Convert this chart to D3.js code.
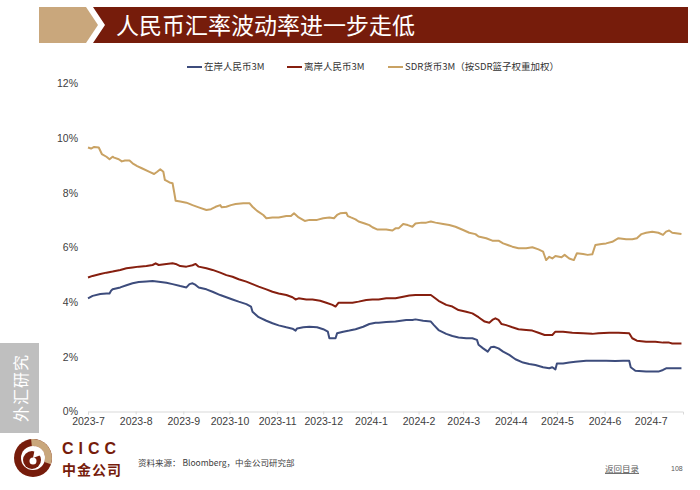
<!DOCTYPE html>
<html>
<head>
<meta charset="utf-8">
<script src="https://cdn.jsdelivr.net/npm/d3@7"></script>
<style>
  html, body { margin: 0; padding: 0; background: #fff; }
  svg { display: block; }
</style>
</head>
<body>
<svg id="chart" width="700" height="490"></svg>
<script>
// ---------------- DATA ----------------
const title = "人民币汇率波动率进一步走低";
const seriesNames = ["在岸人民币3M", "离岸人民币3M", "SDR货币3M（按SDR篮子权重加权）"];
const yTicks = [0, 2, 4, 6, 8, 10, 12];
const xDomain = ["2023-07-01", "2024-07-22"];

const onshoreDates = ["2023-07-01","2023-07-04","2023-07-09","2023-07-13","2023-07-15","2023-07-16","2023-07-17","2023-07-22","2023-07-26","2023-07-30","2023-08-03","2023-08-08","2023-08-12","2023-08-16","2023-08-21","2023-08-25","2023-08-30","2023-09-03","2023-09-05","2023-09-07","2023-09-09","2023-09-11","2023-09-16","2023-09-20","2023-09-25","2023-09-29","2023-10-03","2023-10-07","2023-10-12","2023-10-15","2023-10-16","2023-10-20","2023-10-25","2023-10-29","2023-11-02","2023-11-07","2023-11-11","2023-11-13","2023-11-14","2023-11-18","2023-11-22","2023-11-27","2023-12-01","2023-12-04","2023-12-05","2023-12-09","2023-12-10","2023-12-14","2023-12-18","2023-12-22","2023-12-27","2023-12-31","2024-01-04","2024-01-06","2024-01-11","2024-01-17","2024-01-24","2024-01-28","2024-01-30","2024-02-04","2024-02-09","2024-02-11","2024-02-14","2024-02-19","2024-02-23","2024-02-27","2024-03-03","2024-03-07","2024-03-10","2024-03-11","2024-03-14","2024-03-17","2024-03-19","2024-03-21","2024-03-24","2024-03-27","2024-03-31","2024-04-04","2024-04-09","2024-04-13","2024-04-17","2024-04-22","2024-04-26","2024-04-28","2024-04-30","2024-05-01","2024-05-05","2024-05-09","2024-05-13","2024-05-20","2024-05-26","2024-06-02","2024-06-08","2024-06-13","2024-06-17","2024-06-18","2024-06-21","2024-06-28","2024-07-06","2024-07-09","2024-07-11","2024-07-15","2024-07-21"];
const onshoreValues = [4.14,4.23,4.30,4.32,4.32,4.42,4.47,4.54,4.62,4.69,4.74,4.76,4.77,4.75,4.71,4.66,4.59,4.54,4.66,4.69,4.63,4.54,4.47,4.38,4.26,4.18,4.10,4.02,3.93,3.84,3.65,3.45,3.32,3.23,3.15,3.08,3.03,2.96,3.04,3.08,3.10,3.08,3.01,2.92,2.68,2.68,2.86,2.92,2.96,3.01,3.10,3.20,3.25,3.25,3.27,3.29,3.35,3.35,3.37,3.32,3.29,3.16,2.98,2.84,2.76,2.71,2.68,2.68,2.62,2.44,2.31,2.19,2.35,2.37,2.31,2.19,2.07,1.91,1.79,1.74,1.70,1.62,1.58,1.62,1.54,1.76,1.76,1.79,1.82,1.86,1.86,1.86,1.85,1.86,1.86,1.62,1.49,1.46,1.46,1.52,1.58,1.58,1.58];

const offshoreDates = ["2023-07-01","2023-07-04","2023-07-09","2023-07-13","2023-07-17","2023-07-22","2023-07-26","2023-07-30","2023-08-03","2023-08-08","2023-08-12","2023-08-14","2023-08-16","2023-08-21","2023-08-25","2023-08-27","2023-08-30","2023-09-03","2023-09-07","2023-09-09","2023-09-11","2023-09-16","2023-09-20","2023-09-25","2023-09-29","2023-10-03","2023-10-07","2023-10-12","2023-10-16","2023-10-20","2023-10-25","2023-10-29","2023-11-02","2023-11-07","2023-11-11","2023-11-13","2023-11-15","2023-11-20","2023-11-24","2023-11-29","2023-12-03","2023-12-07","2023-12-09","2023-12-11","2023-12-16","2023-12-20","2023-12-24","2023-12-29","2024-01-02","2024-01-06","2024-01-11","2024-01-17","2024-01-22","2024-01-26","2024-01-30","2024-02-04","2024-02-09","2024-02-11","2024-02-14","2024-02-19","2024-02-23","2024-02-27","2024-03-03","2024-03-07","2024-03-11","2024-03-15","2024-03-18","2024-03-20","2024-03-22","2024-03-24","2024-03-26","2024-03-29","2024-04-02","2024-04-06","2024-04-11","2024-04-15","2024-04-19","2024-04-23","2024-04-28","2024-04-30","2024-05-05","2024-05-11","2024-05-18","2024-05-24","2024-05-28","2024-06-04","2024-06-10","2024-06-17","2024-06-19","2024-06-22","2024-06-28","2024-07-04","2024-07-09","2024-07-13","2024-07-15","2024-07-21"];
const offshoreValues = [4.90,4.96,5.03,5.08,5.12,5.18,5.24,5.27,5.30,5.32,5.36,5.42,5.36,5.40,5.42,5.40,5.32,5.30,5.35,5.40,5.30,5.24,5.18,5.08,4.99,4.93,4.84,4.75,4.66,4.57,4.47,4.38,4.32,4.26,4.18,4.10,4.14,4.10,4.10,4.05,3.98,3.90,3.84,3.98,3.98,3.98,4.02,4.08,4.10,4.10,4.14,4.14,4.20,4.24,4.26,4.26,4.26,4.18,4.05,3.90,3.84,3.71,3.65,3.59,3.45,3.29,3.25,3.35,3.41,3.35,3.20,3.16,3.08,3.01,2.98,2.96,2.88,2.80,2.80,2.92,2.92,2.88,2.86,2.84,2.86,2.88,2.88,2.86,2.68,2.59,2.55,2.55,2.52,2.52,2.49,2.49];

const sdrDates = ["2023-07-01","2023-07-03","2023-07-05","2023-07-08","2023-07-10","2023-07-13","2023-07-15","2023-07-17","2023-07-18","2023-07-21","2023-07-23","2023-07-25","2023-07-28","2023-07-30","2023-08-02","2023-08-05","2023-08-10","2023-08-13","2023-08-15","2023-08-17","2023-08-19","2023-08-20","2023-08-23","2023-08-25","2023-08-26","2023-08-27","2023-08-30","2023-09-03","2023-09-07","2023-09-11","2023-09-16","2023-09-19","2023-09-22","2023-09-25","2023-09-26","2023-09-29","2023-10-02","2023-10-05","2023-10-10","2023-10-14","2023-10-16","2023-10-19","2023-10-23","2023-10-25","2023-10-29","2023-11-02","2023-11-07","2023-11-10","2023-11-12","2023-11-15","2023-11-19","2023-11-22","2023-11-27","2023-12-01","2023-12-05","2023-12-08","2023-12-10","2023-12-12","2023-12-16","2023-12-17","2023-12-19","2023-12-22","2023-12-24","2023-12-28","2023-12-31","2024-01-02","2024-01-05","2024-01-09","2024-01-11","2024-01-15","2024-01-17","2024-01-19","2024-01-22","2024-01-25","2024-01-28","2024-01-30","2024-02-03","2024-02-06","2024-02-09","2024-02-12","2024-02-17","2024-02-21","2024-02-25","2024-03-01","2024-03-05","2024-03-09","2024-03-11","2024-03-16","2024-03-20","2024-03-24","2024-03-27","2024-03-30","2024-04-02","2024-04-06","2024-04-11","2024-04-15","2024-04-19","2024-04-22","2024-04-23","2024-04-24","2024-04-26","2024-04-28","2024-04-30","2024-05-04","2024-05-06","2024-05-09","2024-05-12","2024-05-14","2024-05-18","2024-05-21","2024-05-24","2024-05-26","2024-05-30","2024-06-02","2024-06-06","2024-06-10","2024-06-15","2024-06-19","2024-06-22","2024-06-25","2024-06-28","2024-07-02","2024-07-06","2024-07-09","2024-07-11","2024-07-13","2024-07-15","2024-07-21"];
const sdrValues = [9.66,9.62,9.68,9.66,9.42,9.32,9.23,9.32,9.29,9.23,9.15,9.18,9.18,9.08,8.98,8.90,8.77,8.69,8.77,8.86,8.77,8.47,8.38,8.35,8.04,7.71,7.68,7.64,7.55,7.47,7.37,7.40,7.49,7.55,7.47,7.49,7.55,7.59,7.62,7.62,7.49,7.34,7.19,7.07,7.10,7.10,7.15,7.15,7.25,7.10,6.97,7.01,7.01,7.07,7.10,7.07,7.19,7.25,7.27,7.15,7.10,7.03,6.95,6.88,6.82,6.74,6.66,6.66,6.66,6.62,6.70,6.70,6.86,6.82,6.76,6.88,6.91,6.91,6.95,6.91,6.86,6.82,6.76,6.64,6.54,6.49,6.40,6.34,6.25,6.25,6.15,6.09,6.03,5.97,5.97,6.01,5.93,5.85,5.69,5.54,5.66,5.60,5.69,5.64,5.73,5.60,5.54,5.79,5.76,5.73,5.75,6.09,6.13,6.15,6.21,6.34,6.30,6.30,6.34,6.49,6.54,6.58,6.54,6.46,6.58,6.62,6.54,6.49];

const seriesColors = ["#3D4C7C", "#861F0F", "#C9A263"];
const sourceText = "资料来源： Bloomberg，中金公司研究部";

// ---------------- DRAW ----------------
const svg = d3.select("#chart");
const parse = d3.timeParse("%Y-%m-%d");
const latin = "'Liberation Sans', Arial, sans-serif";
const cjk = "'Noto Sans CJK SC', 'Noto Sans', sans-serif";

// Header
svg.append("polygon")
  .attr("points", "39,7 86,7 98,25 86,43 39,43")
  .attr("fill", "#C9A77C");
svg.append("polygon")
  .attr("points", "93,7 688,7 688,43 93,43 105,25")
  .attr("fill", "#761C0B");
svg.append("text")
  .attr("x", 116).attr("y", 33.5)
  .attr("fill", "#fff")
  .attr("font-family", cjk)
  .attr("font-size", 23)
  .text(title);

// Scales
const x = d3.scaleTime().domain(xDomain.map(parse)).range([88, 683]);
const y = d3.scaleLinear().domain([0, 12]).range([411.5, 83.5]);

// Axes
const xAxis = svg.append("g")
  .attr("transform", "translate(0,411.5)")
  .call(d3.axisBottom(x)
    .ticks(d3.timeMonth.every(1))
    .tickFormat(d3.timeFormat("%Y-%-m"))
    .tickSize(3)
    .tickPadding(3));
xAxis.select(".domain").attr("stroke", "#D9D9D9");
xAxis.selectAll(".tick line").attr("stroke", "#D9D9D9");
xAxis.selectAll("text")
  .attr("font-family", latin).attr("font-size", 10.5).attr("fill", "#404040");

const yAxis = svg.append("g")
  .attr("transform", "translate(88,0)")
  .call(d3.axisLeft(y).tickValues(yTicks).tickFormat(d => d + "%").tickSize(0).tickPadding(10));
yAxis.select(".domain").remove();
yAxis.selectAll("text")
  .attr("font-family", latin).attr("font-size", 10.5).attr("fill", "#404040");

// Lines
const allSeries = [
  { dates: onshoreDates, values: onshoreValues },
  { dates: offshoreDates, values: offshoreValues },
  { dates: sdrDates, values: sdrValues }
];
const line = d3.line().x(d => x(d[0])).y(d => y(d[1]));
allSeries.forEach((s, i) => {
  const pts = s.dates.map((d, j) => [parse(d), s.values[j]]);
  svg.append("path")
    .datum(pts)
    .attr("fill", "none")
    .attr("stroke", seriesColors[i])
    .attr("stroke-width", 2)
    .attr("stroke-linejoin", "round")
    .attr("d", line);
});

// Legend
const legendX = [187, 287, 388];
const legendY = 67;
seriesNames.forEach((name, i) => {
  const g = svg.append("g").attr("transform", `translate(${legendX[i]},${legendY})`);
  g.append("line").attr("x1", 0).attr("x2", 15).attr("y1", 0).attr("y2", 0)
    .attr("stroke", seriesColors[i]).attr("stroke-width", 2);
  g.append("text").attr("x", 17).attr("y", 0).attr("dy", "0.35em")
    .attr("font-family", cjk).attr("font-size", 9.5).attr("fill", "#333")
    .text(name);
});

// Side tab
svg.append("rect").attr("x", 0).attr("y", 343).attr("width", 39).attr("height", 90).attr("fill", "#BFBFBF");
svg.append("text")
  .attr("transform", "translate(21,388) rotate(-90)")
  .attr("text-anchor", "middle").attr("dy", "0.35em")
  .attr("font-family", cjk).attr("font-size", 16).attr("fill", "#fff")
  .attr("letter-spacing", 1)
  .text("外汇研究");

// Logo
const lg = svg.append("g").attr("transform", "translate(33,458)");
lg.append("circle").attr("r", 19).attr("fill", "#761C0B");
lg.append("path")
  .attr("d", d3.arc().innerRadius(12).outerRadius(19).startAngle(-0.1).endAngle(1.9)())
  .attr("fill", "#C9A77C");
lg.append("circle").attr("r", 12).attr("fill", "#fff");
lg.append("circle").attr("cx", -1).attr("cy", 2).attr("r", 9).attr("fill", "#761C0B");
lg.append("circle").attr("cx", 0).attr("cy", 3).attr("r", 3.5).attr("fill", "#fff");
lg.append("path")
  .attr("d", d3.arc().innerRadius(0).outerRadius(12).startAngle(0.2).endAngle(1.2)())
  .attr("fill", "#fff");

svg.append("text").attr("x", 62).attr("y", 454)
  .attr("font-family", latin).attr("font-weight", "bold").attr("font-size", 16)
  .attr("letter-spacing", 5).attr("fill", "#761C0B").text("CICC");
svg.append("text").attr("x", 62).attr("y", 475)
  .attr("font-family", cjk).attr("font-weight", "bold").attr("font-size", 14)
  .attr("letter-spacing", 1).attr("fill", "#761C0B").text("中金公司");

// Footer
svg.append("text").attr("x", 138).attr("y", 466)
  .attr("font-family", cjk).attr("font-size", 8.5).attr("fill", "#404040")
  .text(sourceText);
svg.append("text").attr("x", 605).attr("y", 472)
  .attr("font-family", cjk).attr("font-size", 8.5).attr("fill", "#595959")
  .attr("text-decoration", "underline")
  .text("返回目录");
svg.append("text").attr("x", 671).attr("y", 471)
  .attr("font-family", latin).attr("font-size", 7).attr("fill", "#595959")
  .text("108");
</script>
</body>
</html>
